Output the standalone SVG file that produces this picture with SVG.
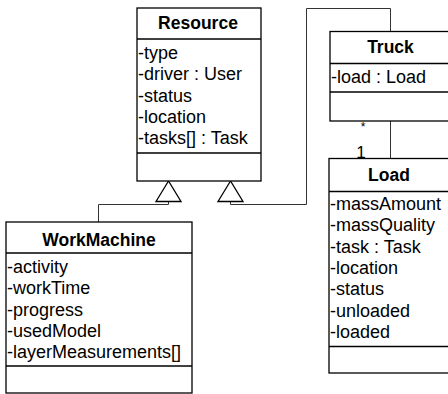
<svg xmlns="http://www.w3.org/2000/svg" width="448" height="394" viewBox="0 0 448 394">
  <defs>
    <style>
      .box { fill: #ffffff; stroke: #000000; stroke-width: 1.3; }
      .sep { stroke: #000000; stroke-width: 1.3; }
      .title { font-family: "Liberation Sans", Arial, sans-serif; font-size: 17.5px; font-weight: bold; fill: #000000; text-anchor: middle; }
      .attr { font-family: "Liberation Sans", Arial, sans-serif; font-size: 18px; fill: #000000; }
      .mult { font-family: "Liberation Sans", Arial, sans-serif; fill: #000000; }
      .edge { fill: none; stroke: #333333; stroke-width: 1; }
      .gen { fill: #ffffff; stroke: #000000; stroke-width: 1.3; }
    </style>
  </defs>

  <!-- connectors: generalizations and the Truck–Load association -->
  <g id="connectors">
    <polyline class="edge" points="168.5,201.5 168.5,204.5 98.5,204.5 98.5,222"/>
    <polyline class="edge" points="230.5,201.5 230.5,204.5 306.5,204.5 306.5,8.5 390.5,8.5 390.5,31.5"/>
    <line class="edge" x1="390.5" y1="121" x2="390.5" y2="158.5"/>
    <polygon class="gen" points="168.5,181 156,201.5 181,201.5"/>
    <polygon class="gen" points="230.5,181 218,201.5 243,201.5"/>
    <text class="mult" x="363" y="131" font-size="12" text-anchor="middle">*</text>
    <text class="mult" x="361" y="158" font-size="17" text-anchor="middle">1</text>
  </g>

  <!-- Resource -->
  <g id="resource">
    <rect class="box" x="137" y="8" width="124" height="173"/>
    <line class="sep" x1="137" y1="39" x2="261" y2="39"/>
    <line class="sep" x1="137" y1="153" x2="261" y2="153"/>
    <text class="title" x="198" y="29">Resource</text>
    <text class="attr" x="138" y="59">-type</text>
    <text class="attr" x="138" y="80.3">-driver : User</text>
    <text class="attr" x="138" y="101.6">-status</text>
    <text class="attr" x="138" y="122.9">-location</text>
    <text class="attr" x="138" y="144.2">-tasks[] : Task</text>
  </g>

  <!-- Truck -->
  <g id="truck">
    <rect class="box" x="330" y="31.5" width="125" height="89.5"/>
    <line class="sep" x1="330" y1="63.5" x2="455" y2="63.5"/>
    <line class="sep" x1="330" y1="92" x2="455" y2="92"/>
    <text class="title" x="390.5" y="53">Truck</text>
    <text class="attr" x="331" y="83.3">-load : Load</text>
  </g>

  <!-- Load -->
  <g id="load">
    <rect class="box" x="329" y="158.5" width="126" height="214.5"/>
    <line class="sep" x1="329" y1="191.5" x2="455" y2="191.5"/>
    <line class="sep" x1="329" y1="346.5" x2="455" y2="346.5"/>
    <text class="title" x="389" y="181">Load</text>
    <text class="attr" x="330" y="210">-massAmount</text>
    <text class="attr" x="330" y="231.3">-massQuality</text>
    <text class="attr" x="330" y="252.6">-task : Task</text>
    <text class="attr" x="330" y="273.9">-location</text>
    <text class="attr" x="330" y="295.2">-status</text>
    <text class="attr" x="330" y="316.5">-unloaded</text>
    <text class="attr" x="330" y="337.8">-loaded</text>
  </g>

  <!-- WorkMachine -->
  <g id="workmachine">
    <rect class="box" x="6" y="222" width="186" height="171"/>
    <line class="sep" x1="6" y1="253" x2="192" y2="253"/>
    <line class="sep" x1="6" y1="366" x2="192" y2="366"/>
    <text class="title" x="99" y="246">WorkMachine</text>
    <text class="attr" x="7" y="273">-activity</text>
    <text class="attr" x="7" y="294.3">-workTime</text>
    <text class="attr" x="7" y="315.6">-progress</text>
    <text class="attr" x="7" y="336.9">-usedModel</text>
    <text class="attr" x="7" y="358.2">-layerMeasurements[]</text>
  </g>
</svg>
